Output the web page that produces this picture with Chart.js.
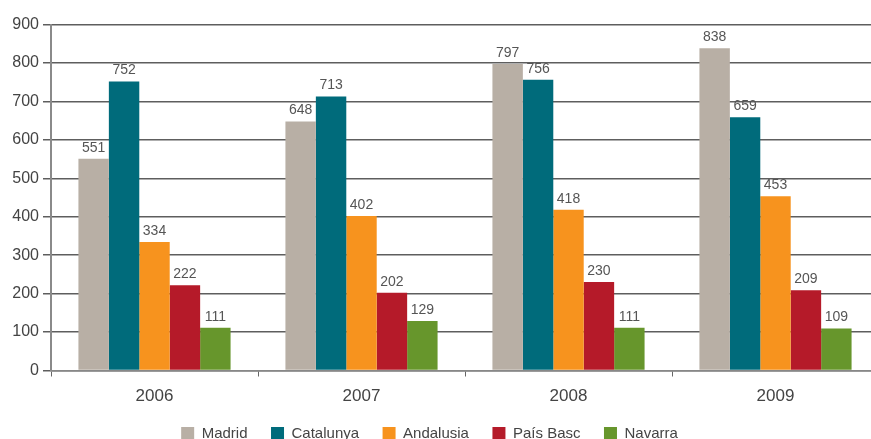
<!DOCTYPE html>
<html>
<head>
<meta charset="utf-8">
<script src="https://cdn.jsdelivr.net/npm/chart.js@4/dist/chart.umd.min.js"></script>
<style>
  html, body { margin: 0; padding: 0; background: #fff; overflow: hidden; }
  #wrap { width: 879px; height: 439px; }
</style>
</head>
<body>
<div id="wrap"><canvas id="chart" width="879" height="439"></canvas></div>
<script>
// Years on the category axis
const years = ['2006', '2007', '2008', '2009'];

// One series per region
const madrid    = [551, 648, 797, 838];
const catalunya = [752, 713, 756, 659];
const andalusia = [334, 402, 418, 453];
const paisBasc  = [222, 202, 230, 209];
const navarra   = [111, 129, 111, 109];

// Value axis ticks
const yTicks = [0, 100, 200, 300, 400, 500, 600, 700, 800, 900];

const FONT = "'Liberation Sans', Arial, sans-serif";
const TEXT = '#444';

// Value labels above each bar, positioned from the bar elements
const barValues = {
  id: 'barValues',
  afterDatasetsDraw(chart) {
    const ctx = chart.ctx;
    ctx.save();
    ctx.font = '14px ' + FONT;
    ctx.fillStyle = '#555';
    ctx.textAlign = 'center';
    ctx.textBaseline = 'bottom';
    chart.data.datasets.forEach((ds, i) => {
      chart.getDatasetMeta(i).data.forEach((bar, j) => {
        ctx.fillText(String(ds.data[j]), bar.x, bar.y - 4);
      });
    });
    ctx.restore();
  }
};

// Nudge the legend row to the left
const legendShift = {
  id: 'legendShift',
  afterLayout(chart) {
    const lg = chart.legend;
    if (lg) { lg.left -= 10; lg.right -= 10; }
  }
};

new Chart(document.getElementById('chart'), {
  type: 'bar',
  data: {
    labels: years,
    datasets: [
      { label: 'Madrid',    data: madrid,    backgroundColor: '#b8afa5' },
      { label: 'Catalunya', data: catalunya, backgroundColor: '#006b7b' },
      { label: 'Andalusia', data: andalusia, backgroundColor: '#f7931e' },
      { label: 'País Basc', data: paisBasc,  backgroundColor: '#b51a29' },
      { label: 'Navarra',   data: navarra,   backgroundColor: '#67962c' }
    ]
  },
  plugins: [barValues, legendShift],
  options: {
    responsive: false,
    animation: false,
    devicePixelRatio: 1,
    datasets: { bar: { categoryPercentage: 0.735, barPercentage: 1.0, borderWidth: 0 } },
    layout: { padding: { top: 24.5, left: 0, right: 0, bottom: -12 } },
    plugins: {
      tooltip: { enabled: false },
      legend: {
        position: 'bottom',
        labels: {
          boxWidth: 13,
          boxHeight: 13,
          padding: 23.5,
          color: TEXT,
          font: { family: FONT, size: 15 }
        }
      }
    },
    scales: {
      x: {
        grid: { display: true, drawOnChartArea: false, drawTicks: true, tickLength: 6, offset: true, color: '#666', lineWidth: 1 },
        border: { display: true, color: '#888', width: 1.5 },
        ticks: { color: TEXT, font: { family: FONT, size: 17 }, padding: 10 },
        afterFit(scale) { scale.height = 32; }
      },
      y: {
        min: 0,
        max: 900,
        afterBuildTicks(scale) { scale.ticks = yTicks.map(v => ({ value: v })); },
        grid: { color: '#5e5e5e', lineWidth: 1.5, drawTicks: true, tickLength: 8 },
        border: { display: true, color: '#8a8a8a', width: 2 },
        ticks: { color: TEXT, font: { family: FONT, size: 16 }, padding: 4 },
        afterFit(scale) { scale.width = 51; }
      }
    }
  }
});
</script>
</body>
</html>
